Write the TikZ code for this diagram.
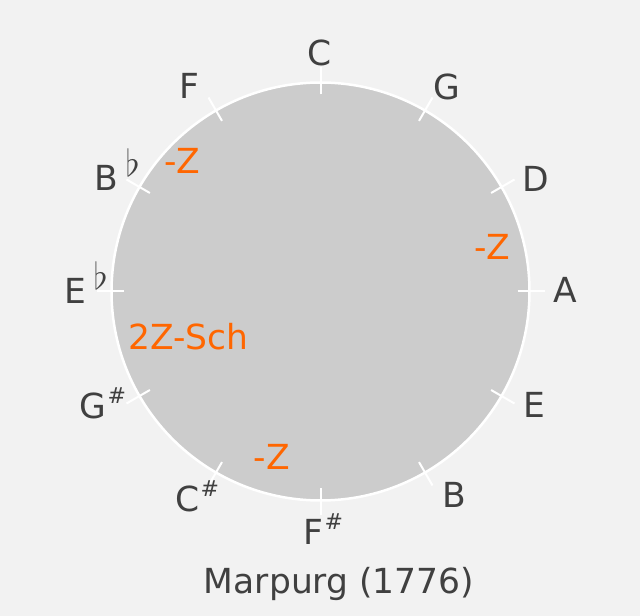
\documentclass[tikz,border=0pt]{standalone}
\usepackage{graphicx}
\usepackage{fontspec}
\setmainfont{DejaVu Sans}
\definecolor{bggray}{HTML}{F2F2F2}
\definecolor{discgray}{HTML}{CCCCCC}
\definecolor{labelgray}{HTML}{404040}
\definecolor{markorange}{HTML}{FF6600}
\newcommand{\shp}{\rlap{\hspace{1bp}\raisebox{15bp}{\fontsize{22bp}{22bp}\selectfont\#}}}
\newcommand{\flt}{\rlap{\hspace{7bp}\raisebox{14bp}{\fontsize{24bp}{24bp}\selectfont\scalebox{1.5}{$\flat$}}}}
\tikzset{
  keylabel/.style={text=labelgray,font=\fontsize{34.5bp}{40bp}\selectfont,inner sep=0pt,anchor=base},
  zmark/.style={keylabel,text=markorange},
  tick/.style={white,line width=2bp},
}
\begin{document}
\begin{tikzpicture}[line join=bevel,]
%%
\fill [bggray] (0bp,0bp) rectangle (640bp,616bp);
\coordinate (ctr) at (320.5bp,324.5bp);
\draw [discgray,fill=discgray] (ctr) circle (209bp);
\draw [white,line width=2.5bp] (ctr) circle (209bp);
\foreach \a in {0,30,...,330}
  \draw [tick] ([shift={(\a:197bp)}]ctr) -- ([shift={(\a:224bp)}]ctr);
%
\node (node_C) at (320bp,550bp) [keylabel] {C};
  \node (node_G) at (447bp,516bp) [keylabel] {G};
  \node (node_D) at (535.7bp,424.3bp) [keylabel] {D};
  \node (node_A) at (565bp,313.3bp) [keylabel] {A};
  \node (node_E) at (534.2bp,198.7bp) [keylabel] {E};
  \node (node_B) at (454bp,108.7bp) [keylabel] {B};
  \node (node_Fs) at (313.7bp,71bp) [keylabel] {F\shp};
  \node (node_Cs) at (187.5bp,104.3bp) [keylabel] {C\shp};
  \node (node_Gs) at (93.3bp,197.7bp) [keylabel] {G\shp};
  \node (node_Eb) at (75.8bp,312.7bp) [keylabel] {E\flt};
  \node (node_Bb) at (106.7bp,425.3bp) [keylabel] {B\flt};
  \node (node_F) at (189.5bp,517.7bp) [keylabel] {F};
%
\node (mark_0) at (182.5bp,442.7bp) [zmark] {-Z};
  \node (mark_1) at (492.5bp,356bp) [zmark] {-Z};
  \node (mark_2) at (188.3bp,266.7bp) [zmark] {2Z-Sch};
  \node (mark_3) at (271.8bp,146.7bp) [zmark] {-Z};
%
\node (title) at (339bp,22.7bp) [keylabel] {Marpurg (1776)};
%
\end{tikzpicture}
\end{document}
